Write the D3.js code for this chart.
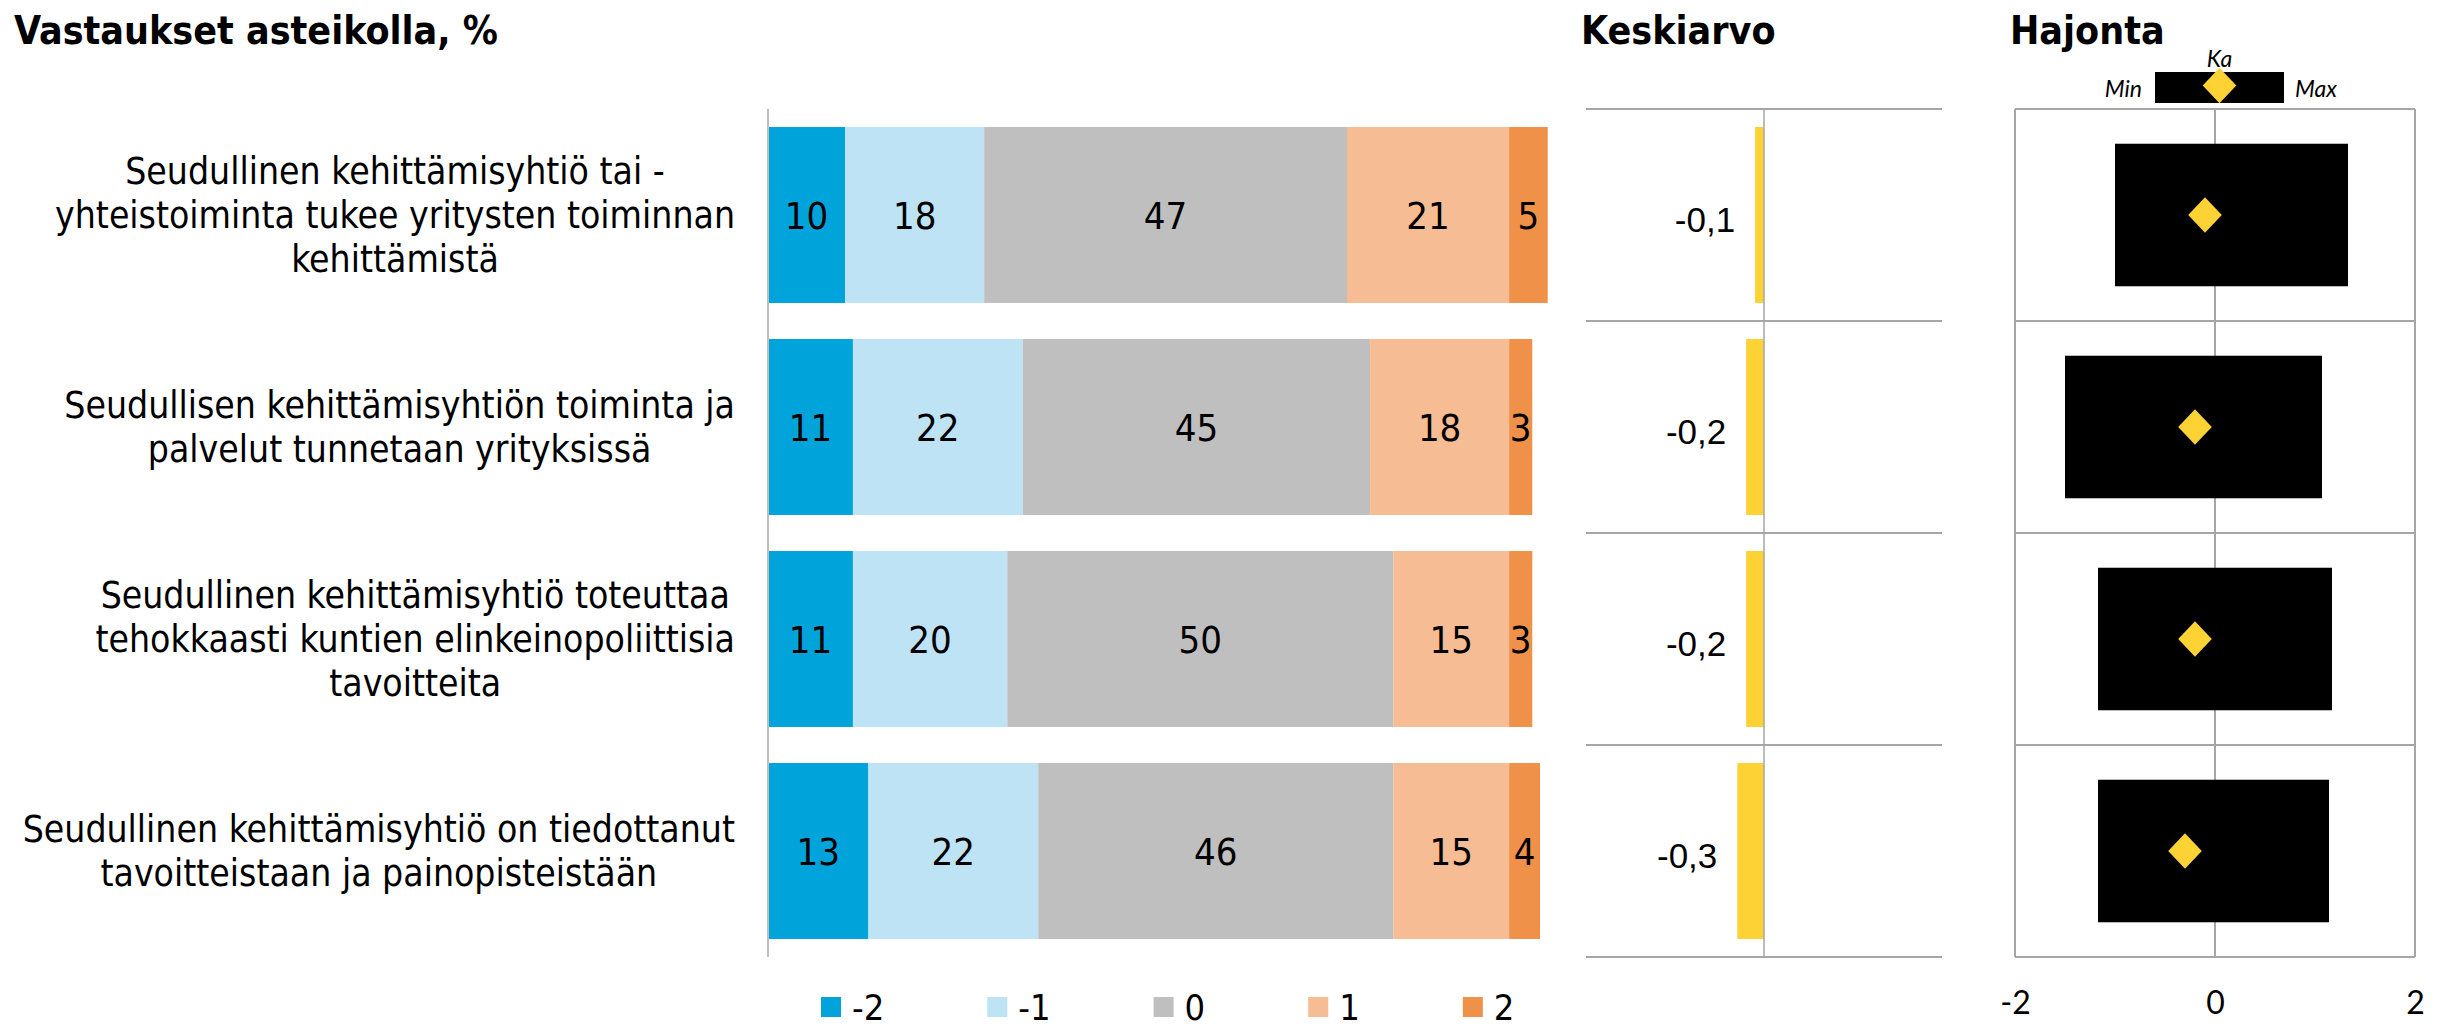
<!DOCTYPE html>
<html>
<head>
<meta charset="utf-8">
<script src="https://cdn.jsdelivr.net/npm/d3@7/dist/d3.min.js"></script>
<style>
  html, body { margin: 0; padding: 0; background: #fff; }
  svg { display: block; }
</style>
</head>
<body>
<svg id="chart" width="2443" height="1029"></svg>
<script>
// Statements (each split into the lines shown on the left)
const statements = [
  ["Seudullinen kehittämisyhtiö tai -", "yhteistoiminta tukee yritysten toiminnan", "kehittämistä"],
  ["Seudullisen kehittämisyhtiön toiminta ja", "palvelut tunnetaan yrityksissä"],
  ["Seudullinen kehittämisyhtiö toteuttaa", "tehokkaasti kuntien elinkeinopoliittisia", "tavoitteita"],
  ["Seudullinen kehittämisyhtiö on tiedottanut", "tavoitteistaan ja painopisteistään"]
];

// Answer scale levels and the share (%) of answers at each level
const levels = ["-2", "-1", "0", "1", "2"];
const shareMinus2 = [10, 11, 11, 13];
const shareMinus1 = [18, 22, 20, 22];
const shareZero   = [47, 45, 50, 46];
const sharePlus1  = [21, 18, 15, 15];
const sharePlus2  = [5, 3, 3, 4];

// Mean answer per statement
const means = [-0.1, -0.2, -0.2, -0.3];

// Spread: min and max of the range per statement
const spreadMin = [-1.0, -1.5, -1.17, -1.17];
const spreadMax = [1.33, 1.07, 1.17, 1.14];
const spreadTicks = [-2, 0, 2];

const levelColors = ["#00a3da", "#bee3f5", "#bfbfbf", "#f6bc93", "#f0914a"];
const yellow = "#fdd235";
const gridColor = "#a6a6a6";

const narrow = "'Liberation Sans Narrow', 'Arial Narrow', 'DejaVu Sans Condensed', sans-serif";
const labelFont = "'DejaVu Sans Condensed', 'DejaVu Sans', sans-serif";

const svg = d3.select("#chart");

// Row table built from the share arrays
const rows = statements.map((s, i) => ({
  idx: i,
  "-2": shareMinus2[i], "-1": shareMinus1[i], "0": shareZero[i], "1": sharePlus1[i], "2": sharePlus2[i]
}));
const stacked = d3.stack().keys(levels)(rows);

// Shared vertical band scale
const y = d3.scaleBand()
  .domain(d3.range(statements.length))
  .range([109, 957])
  .paddingInner(0.17)
  .paddingOuter(0.085);
const step = y.step();
const top0 = y.range()[0];
const boundaries = d3.range(statements.length + 1).map(k => top0 + k * step);

// ---------- Titles ----------
const titles = [
  { text: "Vastaukset asteikolla, %", x: 14 },
  { text: "Keskiarvo", x: 1581 },
  { text: "Hajonta", x: 2010 }
];
svg.selectAll("text.title").data(titles).join("text")
  .attr("class", "title")
  .attr("x", d => d.x).attr("y", 44)
  .attr("font-family", narrow).attr("font-weight", "bold")
  .attr("font-size", 39).attr("fill", "#000")
  .text(d => d.text);

// ---------- Stacked shares ----------
const x = d3.scaleLinear().domain([0, 100]).range([768, 1540]);

const layer = svg.append("g").selectAll("g").data(stacked).join("g")
  .attr("fill", (d, i) => levelColors[i]);
layer.selectAll("rect").data(d => d).join("rect")
  .attr("x", d => x(d[0]))
  .attr("y", d => y(d.data.idx))
  .attr("width", d => x(d[1]) - x(d[0]))
  .attr("height", y.bandwidth());

const valueLabels = svg.append("g");
stacked.forEach(series => {
  valueLabels.selectAll(null).data(series).join("text")
    .attr("x", d => (x(d[0]) + x(d[1])) / 2)
    .attr("y", d => y(d.data.idx) + y.bandwidth() / 2)
    .attr("dy", "0.36em")
    .attr("text-anchor", "middle")
    .attr("font-family", narrow).attr("font-size", 38).attr("fill", "#000")
    .text(d => d[1] - d[0]);
});

// category axis (line only)
const yAxis = svg.append("g")
  .attr("transform", `translate(${x(0)},0)`)
  .call(d3.axisLeft(y).tickSize(0).tickSizeOuter(0).tickFormat(""));
yAxis.select(".domain").attr("stroke", "#bfbfbf").attr("stroke-width", 2)
  .attr("d", `M0,${boundaries[0]}V${boundaries[boundaries.length - 1]}`);

// Statement labels: block right-aligned, lines centred inside the block
const labelRight = 735;
const lineH = 44;
statements.forEach((lines, i) => {
  const g = svg.append("g");
  const texts = g.selectAll("text").data(lines).join("text")
    .attr("font-family", labelFont).attr("font-size", 37).attr("fill", "#000")
    .attr("text-anchor", "middle")
    .text(d => d);
  let maxW = 0;
  texts.each(function () { maxW = Math.max(maxW, this.getComputedTextLength()); });
  const cx = labelRight - maxW / 2;
  const cy = y(i) + y.bandwidth() / 2;
  texts.attr("x", cx)
    .attr("y", (d, k) => cy + (k - (lines.length - 1) / 2) * lineH)
    .attr("dy", "0.36em");
});

// Legend
const legend = svg.append("g");
let lx = 821;
levels.forEach((lv, i) => {
  legend.append("rect").attr("x", lx).attr("y", 997).attr("width", 20).attr("height", 20)
    .attr("fill", levelColors[i]);
  const t = legend.append("text").attr("x", lx + 31).attr("y", 1007).attr("dy", "0.36em")
    .attr("font-family", narrow).attr("font-size", 36).attr("fill", "#000").text(lv);
  lx += 31 + t.node().getComputedTextLength() + 103;
});

// ---------- Mean panel ----------
const mx = d3.scaleLinear().domain([-2, 2]).range([1586, 1942]);
const meanG = svg.append("g");
meanG.selectAll("line.grid").data(boundaries).join("line")
  .attr("x1", mx.range()[0]).attr("x2", mx.range()[1])
  .attr("y1", d => d).attr("y2", d => d)
  .attr("stroke", gridColor).attr("stroke-width", 2.2);
meanG.selectAll("rect").data(means).join("rect")
  .attr("x", d => Math.min(mx(d), mx(0)))
  .attr("width", d => Math.abs(mx(d) - mx(0)))
  .attr("y", (d, i) => y(i))
  .attr("height", y.bandwidth())
  .attr("fill", yellow);
meanG.append("line")
  .attr("x1", mx(0)).attr("x2", mx(0))
  .attr("y1", boundaries[0]).attr("y2", boundaries[boundaries.length - 1])
  .attr("stroke", gridColor).attr("stroke-width", 1.5);
const meanFormat = v => d3.format(".1f")(v).replace("\u2212", "-").replace(".", ",");
meanG.selectAll("text").data(means).join("text")
  .attr("x", d => Math.min(mx(d), mx(0)) - 20)
  .attr("y", (d, i) => y(i) + y.bandwidth() / 2 + 4)
  .attr("dy", "0.36em")
  .attr("text-anchor", "end")
  .attr("font-family", "'Liberation Sans', Arial, sans-serif")
  .attr("font-size", 35).attr("fill", "#000")
  .text(meanFormat);

// ---------- Spread panel ----------
const sx = d3.scaleLinear().domain([-2, 2]).range([2015, 2415]);
const spreadG = svg.append("g");
spreadG.selectAll("line.h").data(boundaries).join("line")
  .attr("x1", sx.range()[0]).attr("x2", sx.range()[1])
  .attr("y1", d => d).attr("y2", d => d)
  .attr("stroke", gridColor).attr("stroke-width", 2);
spreadG.selectAll("line.v").data(spreadTicks).join("line")
  .attr("x1", d => sx(d)).attr("x2", d => sx(d))
  .attr("y1", boundaries[0]).attr("y2", boundaries[boundaries.length - 1])
  .attr("stroke", gridColor).attr("stroke-width", 2);

const boxH = y.bandwidth() * 0.81;
spreadG.selectAll("rect.box").data(spreadMin).join("rect")
  .attr("class", "box")
  .attr("x", d => sx(d))
  .attr("width", (d, i) => sx(spreadMax[i]) - sx(d))
  .attr("y", (d, i) => y(i) + (y.bandwidth() - boxH) / 2)
  .attr("height", boxH)
  .attr("fill", "#000");

const diamondType = d3.symbolDiamond2 || d3.symbolDiamond;
const diamond = d3.symbol().type(diamondType).size(720);
spreadG.selectAll("path.ka").data(means).join("path")
  .attr("class", "ka")
  .attr("d", diamond)
  .attr("transform", (d, i) => `translate(${sx(d)},${y(i) + y.bandwidth() / 2}) scale(1,1.06)`)
  .attr("fill", yellow);

const sAxis = svg.append("g")
  .attr("transform", `translate(0,${boundaries[boundaries.length - 1]})`)
  .call(d3.axisBottom(sx).tickValues(spreadTicks).tickSize(0).tickPadding(34)
    .tickFormat(v => d3.format("d")(v).replace("\u2212", "-")));
sAxis.select(".domain").remove();
sAxis.selectAll("text")
  .attr("font-family", "Lato, 'Open Sans', sans-serif").attr("font-size", 32).attr("fill", "#000");

// Spread key (Min / Ka / Max)
const key = svg.append("g");
const keyX0 = 2155, keyX1 = 2284, keyY0 = 72, keyY1 = 103;
key.append("rect").attr("x", keyX0).attr("y", keyY0).attr("width", keyX1 - keyX0).attr("height", keyY1 - keyY0)
  .attr("fill", "#000");
key.append("path").attr("d", diamond)
  .attr("transform", `translate(${(keyX0 + keyX1) / 2},${(keyY0 + keyY1) / 2 - 2}) scale(1,1.06)`)
  .attr("fill", yellow);
const keyFont = "Lato, 'Open Sans', sans-serif";
key.append("text").attr("x", keyX0 - 13).attr("y", 97).attr("text-anchor", "end")
  .attr("font-family", keyFont).attr("font-style", "italic").attr("font-size", 23).text("Min");
key.append("text").attr("x", keyX1 + 11).attr("y", 97)
  .attr("font-family", keyFont).attr("font-style", "italic").attr("font-size", 23).text("Max");
key.append("text").attr("x", (keyX0 + keyX1) / 2).attr("y", 67).attr("text-anchor", "middle")
  .attr("font-family", keyFont).attr("font-style", "italic").attr("font-size", 23).text("Ka");
</script>
</body>
</html>
